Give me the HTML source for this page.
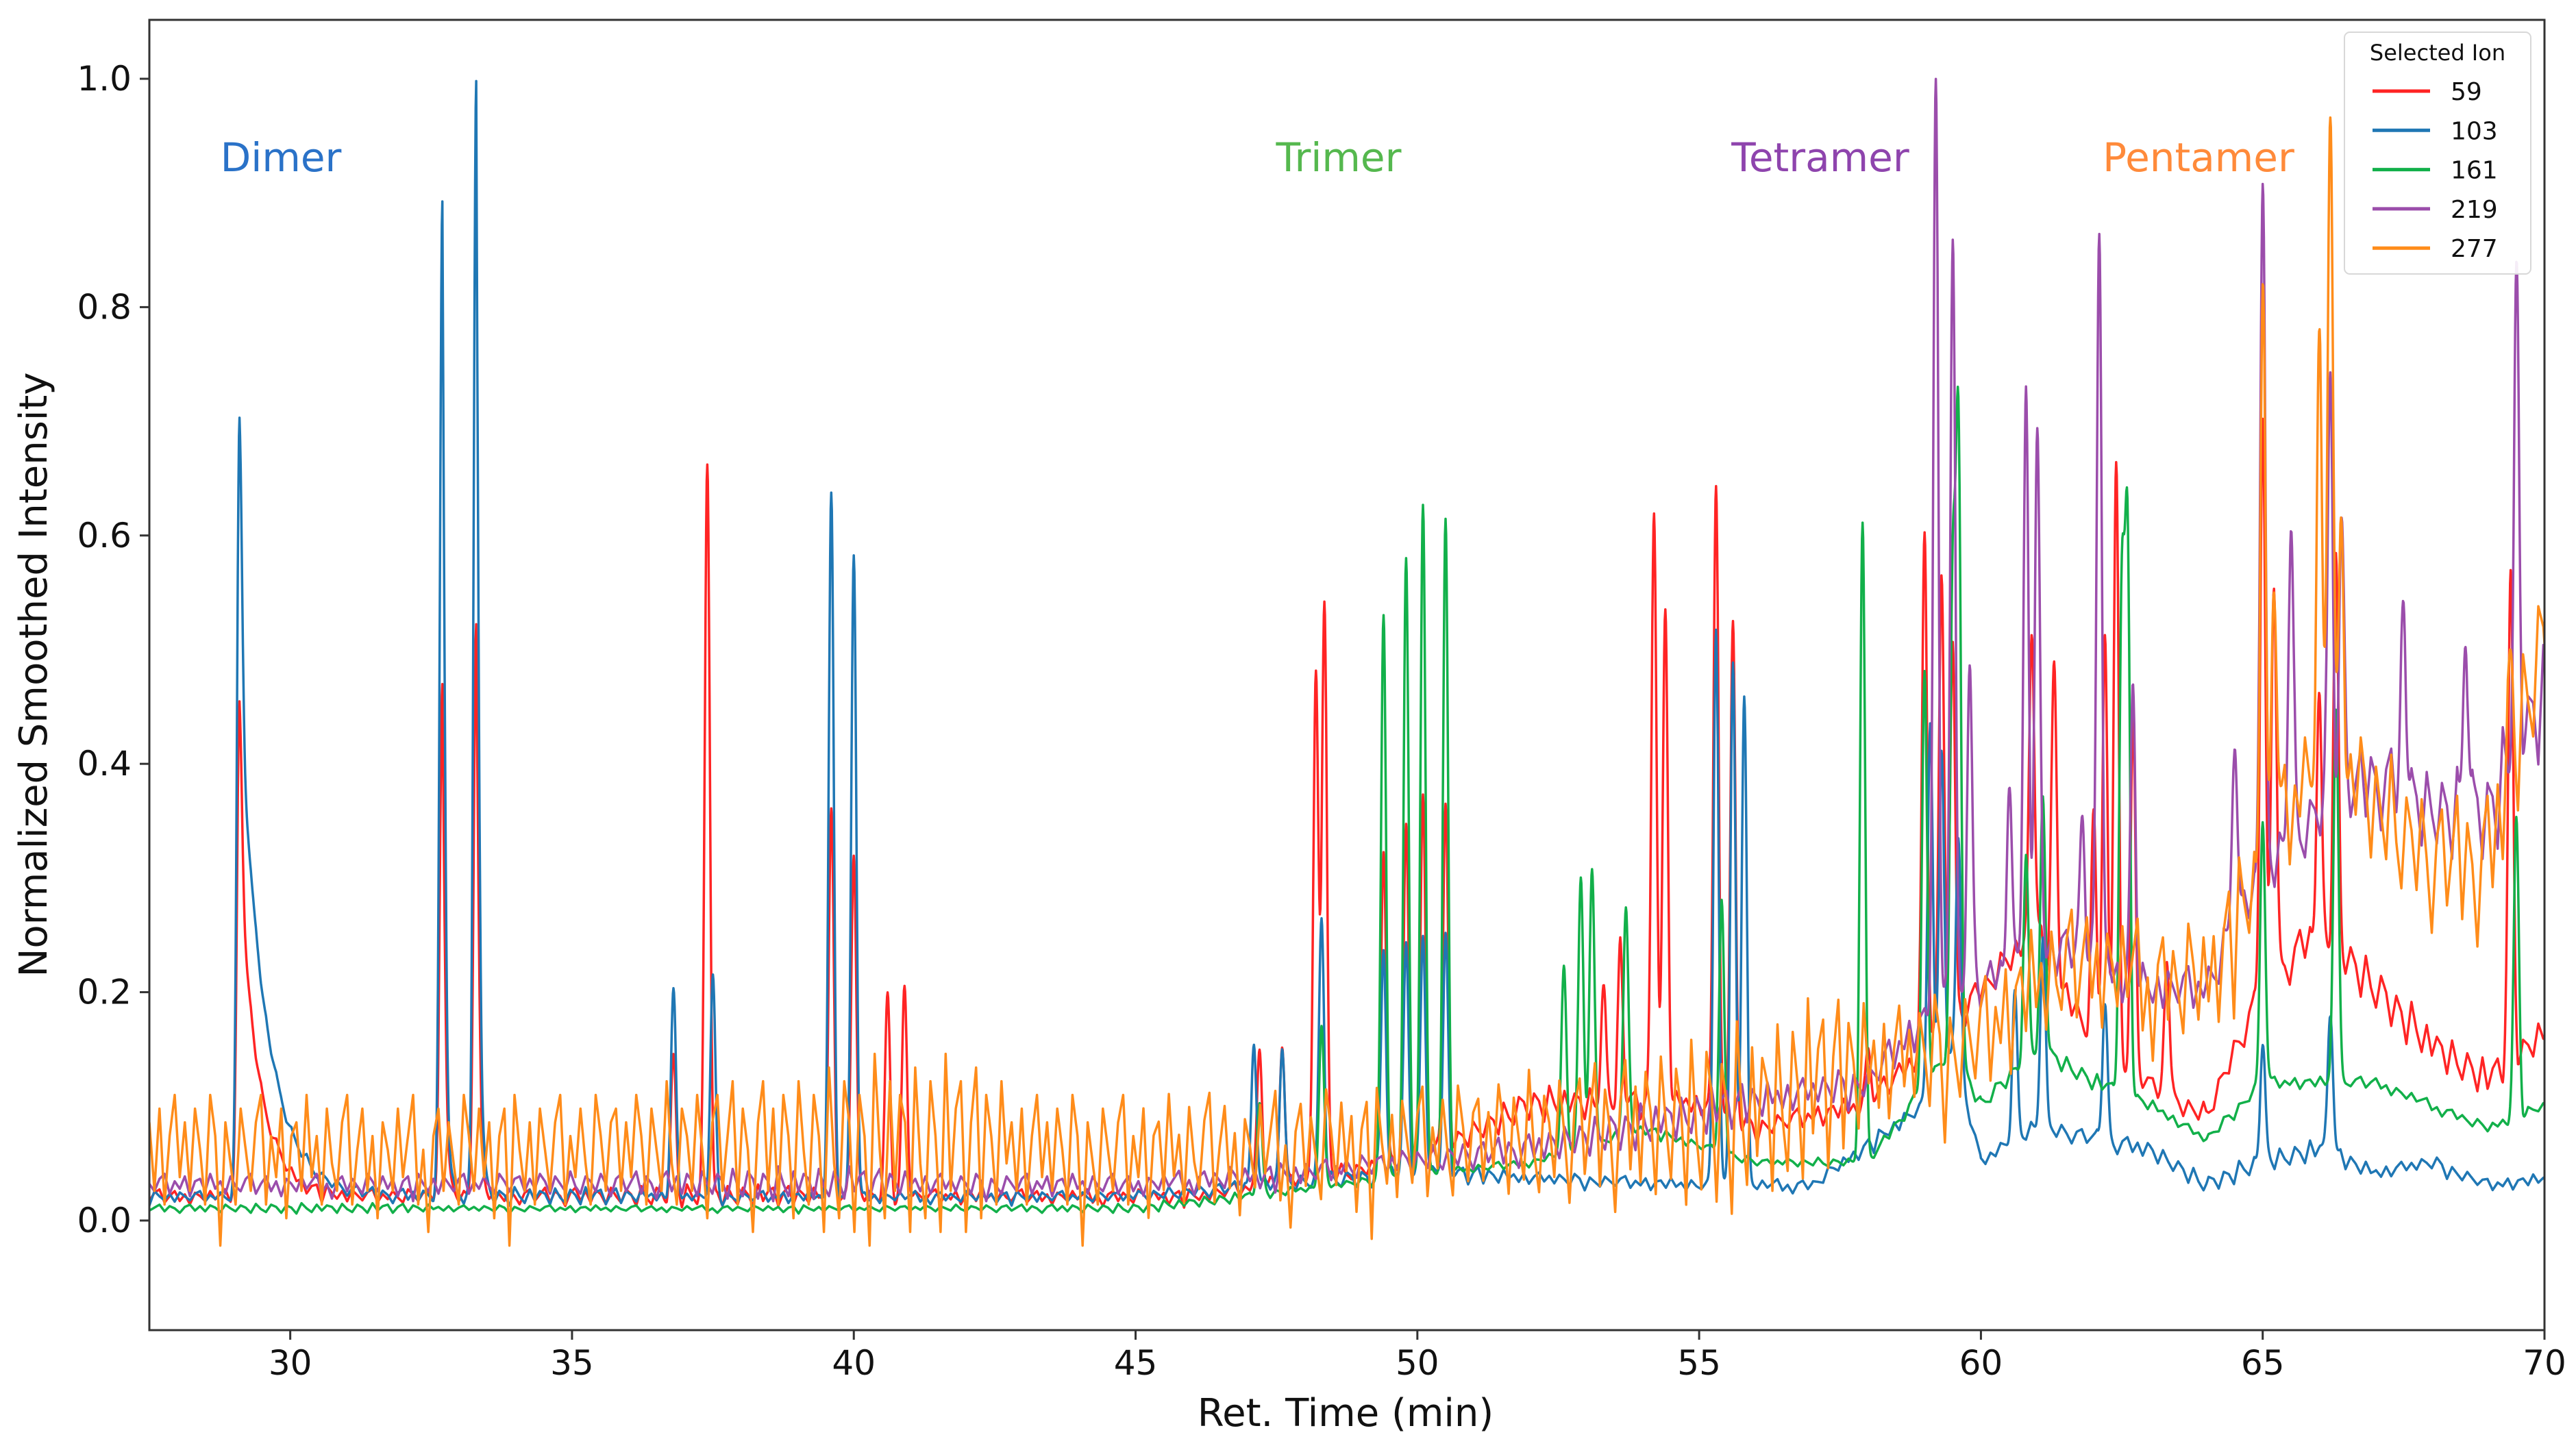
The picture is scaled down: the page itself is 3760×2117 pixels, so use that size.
<!DOCTYPE html>
<html><head><meta charset="utf-8"><style>
html,body{margin:0;padding:0;background:#fff;}
svg{display:block;font-family:"DejaVu Sans","Liberation Sans",sans-serif;}
</style></head><body>
<svg id="chart" width="3760" height="2117" viewBox="0 0 3760 2117" xmlns="http://www.w3.org/2000/svg">
<rect x="0" y="0" width="3760" height="2117" fill="#fff"/>
<g id="plot"></g>
<g id="axes"></g>
<text x="410" y="250" font-size="58" fill="#2a72c8" text-anchor="middle">Dimer</text>
<text x="1954" y="250" font-size="58" fill="#55b84e" text-anchor="middle">Trimer</text>
<text x="2657" y="250" font-size="58" fill="#8e44ad" text-anchor="middle">Tetramer</text>
<text x="3209" y="250" font-size="58" fill="#ff8a3a" text-anchor="middle">Pentamer</text>
<text transform="translate(68,985) rotate(-90)" font-size="56" text-anchor="middle" fill="#111">Normalized Smoothed Intensity</text>
<text x="1964" y="2082" font-size="56" text-anchor="middle" fill="#111">Ret. Time (min)</text>
<g>
<rect x="3422" y="47" width="272" height="353" rx="8" fill="#fff" fill-opacity="0.9" stroke="#d8d8d8" stroke-width="2"/>
<text x="3558" y="88" font-size="32" text-anchor="middle" fill="#111">Selected Ion</text>
<g id="legend-entries"></g>
</g>
</svg>
<script>
const xTicks=[30,35,40,45,50,55,60,65,70];
const yTicks=[0.0,0.2,0.4,0.6,0.8,1.0];
const seriesNames=["59","103","161","219","277"];
const seriesColors=["#ff2424","#1f77b4","#12b04a","#9b4dab","#ff8c1a"];
const baseRed=[[27.5,0.02],[46,0.02],[50,0.05],[52,0.1],[55,0.1],[56,0.08],[58,0.1],[60,0.2],[61,0.25],[62,0.15],[63.5,0.1],[64,0.09],[65,0.2],[66,0.25],[67,0.2],[68,0.15],[69,0.12],[70,0.16]];
const baseBlue=[[27.5,0.02],[45,0.02],[50,0.04],[55,0.03],[57,0.03],[59,0.1],[59.5,0.15],[60,0.05],[61,0.08],[63,0.06],[64,0.03],[65,0.05],[66,0.06],[67,0.04],[68,0.05],[69,0.03],[70,0.035]];
const baseGreen=[[27.5,0.01],[45,0.01],[47,0.02],[50,0.04],[52,0.05],[54,0.08],[56,0.05],[58,0.05],[59.5,0.15],[60,0.1],[61,0.15],[62,0.12],[63,0.1],[64,0.07],[65,0.12],[67,0.12],[68,0.1],[69,0.08],[70,0.1]];
const basePurple=[[27.5,0.03],[45,0.03],[48,0.04],[52,0.06],[54,0.08],[56,0.1],[58,0.12],[59.5,0.2],[60,0.2],[61,0.25],[62,0.22],[63,0.2],[64,0.2],[65,0.3],[66,0.35],[67,0.38],[68,0.35],[69,0.35],[70,0.45]];
const baseOrange=[[27.5,0.05],[45,0.05],[52,0.06],[56,0.08],[58,0.12],[60,0.15],[61,0.2],[62,0.22],[63,0.2],[64,0.2],[65,0.3],[66,0.4],[67,0.35],[68,0.3],[69,0.3],[70,0.5]];
const noiseOrange=[0.03,-0.02,0.04,-0.03,0.02,0.05,-0.01,0.03,-0.02,0.04,0.01,-0.03,0.05,0.02,-0.06,0.03,0.0,-0.03,0.04,0.01,-0.02,0.03,0.05,-0.03,0.02,-0.01,0.04,-0.04,0.02,0.03,-0.02,0.05,-0.01,0.02,-0.03,0.04,0.0,-0.02,0.03,0.05,-0.03,0.01,0.04,-0.02,0.02,-0.04,0.03,0.01,-0.02,0.04,-0.01,0.02,0.05,-0.03,0.01,-0.05,0.02,0.04,-0.02,0.03,0.0,-0.03,0.05,0.02,-0.02,0.04,-0.01,0.03,-0.04,0.02,0.04,-0.06,0.05,0.01,-0.02,0.03,-0.03,0.04,0.01,-0.02,0.03,0.05,-0.03,0.02,-0.01,0.04,0.0,-0.03,0.05,0.02,-0.02,0.03,0.04,-0.02,0.03,-0.01,0.05,0.02,-0.03,0.04,0.01,-0.02,0.06,0.0,-0.03,0.04,0.02,-0.02,0.05,0.01,-0.04,0.03,0.05,-0.02,0.02,0.06,-0.03,0.04,0.01,-0.05,0.03,0.06,-0.02,0.04,-0.03,0.05,0.02,-0.04,0.06,0.01,-0.03,0.05,0.02,-0.05,0.07,0.0,-0.04,0.06,0.03,-0.05,0.05,0.02,-0.06,0.08,0.01,-0.04,0.06,-0.02,0.05,0.03,-0.05,0.07,0.0,-0.04,0.06,0.02,-0.05,0.08,-0.02,0.04,0.06,-0.05,0.03,0.07,-0.04,0.05,0.02,-0.03,0.06,0.0];
const noiseScale=[0.25,0.2,0.12,0.35,1.2];
const noisePhase=[37,71,113,19,0];
const peaksRed=[[29.1,0.44,0.35],[32.7,0.45,0.05],[33.3,0.5,0.05],[36.8,0.12,0],[37.4,0.645,0],[39.6,0.34,0],[40.0,0.3,0],[40.6,0.175,0],[40.9,0.185,0],[47.2,0.12,0],[47.6,0.12,0],[48.2,0.44,0],[48.35,0.5,0],[49.4,0.28,0],[49.8,0.29,0],[50.1,0.32,0],[50.5,0.3,0],[53.3,0.1,0],[53.6,0.13,0],[54.2,0.52,0],[54.4,0.43,0],[55.3,0.55,0],[55.6,0.43,0],[58.0,0.05,0],[59.0,0.45,0],[59.3,0.4,0],[59.5,0.33,0],[60.9,0.28,0],[61.3,0.26,0],[62.0,0.2,0],[62.2,0.37,0],[62.4,0.52,0],[62.7,0.3,0],[63.3,0.12,0],[65.0,0.5,0],[65.2,0.35,0],[66.0,0.2,0],[66.3,0.33,0],[69.4,0.42,0]];
const peaksBlue=[[29.1,0.68,0.45],[32.7,0.87,0.05],[33.3,0.98,0.05],[36.8,0.18,0],[37.5,0.19,0],[39.6,0.615,0],[40.0,0.565,0],[47.1,0.13,0],[47.6,0.12,0],[48.3,0.23,0],[49.4,0.2,0],[49.8,0.2,0],[50.1,0.21,0],[50.5,0.21,0],[55.3,0.49,0],[55.6,0.46,0],[55.8,0.43,0],[59.1,0.33,0],[59.3,0.28,0],[59.6,0.2,0],[60.6,0.13,0],[61.1,0.17,0],[62.2,0.12,0],[65.0,0.1,0],[66.2,0.13,0]];
const peaksGreen=[[47.2,0.08,0],[48.3,0.14,0],[49.4,0.495,0],[49.8,0.54,0],[50.1,0.585,0],[50.5,0.57,0],[52.6,0.16,0],[52.9,0.24,0],[53.1,0.24,0],[53.7,0.2,0],[55.4,0.22,0],[57.9,0.56,0],[59.0,0.36,0],[59.5,0.4,0],[59.6,0.55,0],[60.8,0.17,0],[61.1,0.22,0],[62.5,0.43,0],[62.6,0.48,0],[65.0,0.23,0],[66.3,0.33,0],[69.5,0.26,0]];
const peaksPurple=[[59.2,0.8,0],[59.5,0.655,0],[59.8,0.275,0],[60.5,0.15,0],[60.8,0.47,0],[61.0,0.43,0],[61.8,0.13,0],[62.1,0.645,0],[62.7,0.25,0],[64.5,0.17,0],[65.0,0.59,0],[65.5,0.28,0],[66.2,0.38,0],[66.4,0.23,0],[67.5,0.17,0],[68.6,0.17,0],[69.5,0.42,0]];
const peaksOrange=[[65.0,0.5,0],[65.2,0.25,0],[66.0,0.34,0],[66.2,0.6,0],[66.4,0.2,0],[69.4,0.08,0]];

const L=218,R=3714,T=29,B=1942,X0=27.5,X1=70,Y0=-0.096,Y1=1.0516;
const sx=t=>L+(t-X0)/(X1-X0)*(R-L);
const sy=v=>B-(v-Y0)/(Y1-Y0)*(B-T);
const NS="http://www.w3.org/2000/svg";
function mk(tag,attrs,parent){const e=document.createElementNS(NS,tag);for(const k in attrs)e.setAttribute(k,attrs[k]);parent.appendChild(e);return e;}
function interp(arr,t){if(t<=arr[0][0])return arr[0][1];for(let i=1;i<arr.length;i++){if(t<=arr[i][0]){const a=arr[i-1],b=arr[i];return a[1]+(b[1]-a[1])*(t-a[0])/(b[0]-a[0]);}}return arr[arr.length-1][1];}
function noiseAt(arr,t,ph){const f=(t-X0)/0.09+ph;const i=Math.floor(f);const n=arr.length;const a=arr[i%n],b=arr[(i+1)%n];return a+(b-a)*(f-i);}
function peakVal(p,t){const s=0.045;const d=t-p[0];if(p[2]>0&&d>0){return p[1]*(0.35*Math.exp(-d*d/(2*s*s))+0.65*Math.exp(-d/p[2]));}return p[1]*Math.exp(-d*d/(2*s*s));}
const plot=document.getElementById('plot');
const defs=mk('defs',{},plot);const cp=mk('clipPath',{id:'clip'},defs);mk('rect',{x:L,y:T,width:R-L,height:B-T},cp);
const g=mk('g',{'clip-path':'url(#clip)'},plot);
const bases=[baseRed,baseBlue,baseGreen,basePurple,baseOrange];
const peaks=[peaksRed,peaksBlue,peaksGreen,peaksPurple,peaksOrange];
const lineNames=['line-ion-59','line-ion-103','line-ion-161','line-ion-219','line-ion-277'];
for(let s=0;s<5;s++){
  let d='';
  for(let t=X0;t<=X1+1e-9;t+=0.01){
    const b=interp(bases[s],t);
    let v=b+noiseAt(noiseOrange,t,noisePhase[s])*noiseScale[s]*(s===4?1:(0.5+b*4));
    for(const p of peaks[s])v+=peakVal(p,t);
    d+=(d?'L':'M')+sx(t).toFixed(1)+','+sy(v).toFixed(1);
  }
  const path=mk('path',{d:d,fill:'none',stroke:seriesColors[s],'stroke-width':3.5,'stroke-linejoin':'round'},g);
  
  
}
const axes=document.getElementById('axes');
const frame=mk('rect',{x:L,y:T,width:R-L,height:B-T,fill:'none',stroke:'#333',"stroke-width":3},axes);


for(const t of xTicks){
  mk('line',{x1:sx(t),x2:sx(t),y1:B,y2:B+14,stroke:'#333','stroke-width':3},axes);
  const tx=mk('text',{x:sx(t),y:B+65,'font-size':50,'text-anchor':'middle',fill:'#111'},axes);
  tx.textContent=t;
  
  
}
for(const v of yTicks){
  mk('line',{x1:L-14,x2:L,y1:sy(v),y2:sy(v),stroke:'#333','stroke-width':3},axes);
  const tx=mk('text',{x:L-26,y:sy(v)+17,'font-size':50,'text-anchor':'end',fill:'#111'},axes);
  tx.textContent=v.toFixed(1);
  
  
}
const le=document.getElementById('legend-entries');
for(let i=0;i<5;i++){
  const y=133+i*57.3;
  const ln=mk('line',{x1:3463,x2:3547,y1:y,y2:y,stroke:seriesColors[i],'stroke-width':5},le);
  
  
  const tx=mk('text',{x:3577,y:y+13,'font-size':36,fill:'#111'},le);
  tx.textContent=seriesNames[i];
  
  
}
</script>
</body></html>
